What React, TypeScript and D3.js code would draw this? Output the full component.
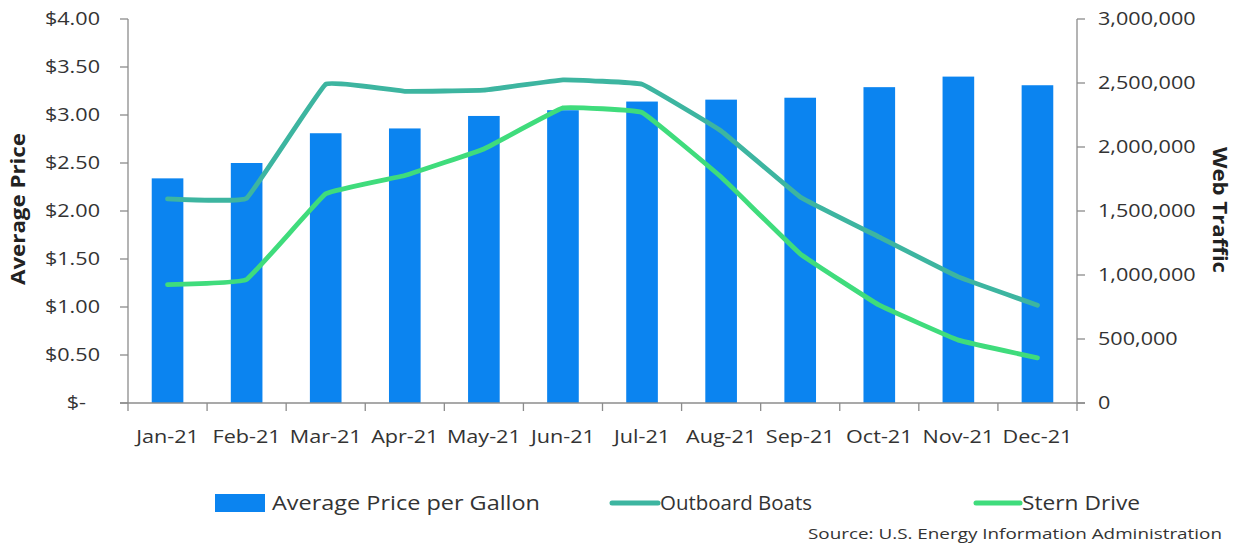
import * as d3 from 'd3';
import React, { useEffect, useRef } from 'react';

const months = ['Jan-21', 'Feb-21', 'Mar-21', 'Apr-21', 'May-21', 'Jun-21', 'Jul-21', 'Aug-21', 'Sep-21', 'Oct-21', 'Nov-21', 'Dec-21'];
const avgPrice = [2.34, 2.5, 2.81, 2.86, 2.99, 3.05, 3.14, 3.16, 3.18, 3.29, 3.4, 3.31];
const outboard = [1595000, 1600000, 2490000, 2435000, 2444000, 2525000, 2490000, 2125000, 1610000, 1296000, 985000, 764000];
const sternDrive = [925000, 965000, 1634000, 1777000, 1985000, 2305000, 2270000, 1765000, 1165000, 764000, 491000, 353000];
const priceTicks = [0, 0.5, 1, 1.5, 2, 2.5, 3, 3.5, 4];
const trafficTicks = [0, 500000, 1000000, 1500000, 2000000, 2500000, 3000000];

const W = 1247;
const H = 545;
const FONT = '"Open Sans", "Liberation Sans", sans-serif';
const BAR = '#0b84f0';
const TEAL = '#3db5a0';
const GREEN = '#3fdc7c';
const AXIS = '#8c8c8c';
const TEXT = '#333';
const STRETCH = 1.2; // tick labels in the source are horizontally wide

export default function App() {
  const ref = useRef<SVGSVGElement | null>(null);

  useEffect(() => {
    const svg = d3.select(ref.current);
    svg.selectAll('*').remove();

    const left = 128, right = 1077, top = 19, bottom = 403;

    const x = d3.scaleBand().domain(months).range([left, right]).paddingInner(0.6).paddingOuter(0.3);
    const band = d3.scaleBand().domain(months).range([left, right]);
    const yL = d3.scaleLinear().domain([0, 4]).range([bottom, top]);
    const yR = d3.scaleLinear().domain([0, 3000000]).range([bottom, top]);

    // bars
    svg.append('g')
      .selectAll('rect')
      .data(avgPrice)
      .join('rect')
      .attr('x', (_, i) => x(months[i])!)
      .attr('width', x.bandwidth())
      .attr('y', d => yL(d))
      .attr('height', d => bottom - yL(d))
      .attr('fill', BAR);

    // axes
    const axG = svg.append('g').attr('stroke', AXIS).attr('stroke-width', 1.3);
    axG.append('line').attr('x1', left).attr('x2', left).attr('y1', top).attr('y2', bottom);
    axG.append('line').attr('x1', right).attr('x2', right).attr('y1', top).attr('y2', bottom);
    axG.append('line').attr('x1', left - 8).attr('x2', right + 8).attr('y1', bottom).attr('y2', bottom);
    priceTicks.forEach(t => {
      axG.append('line').attr('x1', left - 8).attr('x2', left).attr('y1', yL(t)).attr('y2', yL(t));
    });
    trafficTicks.forEach(t => {
      axG.append('line').attr('x1', right).attr('x2', right + 8).attr('y1', yR(t)).attr('y2', yR(t));
    });
    months.forEach(m => {
      axG.append('line').attr('x1', band(m)!).attr('x2', band(m)!).attr('y1', bottom).attr('y2', bottom + 8);
    });
    axG.append('line').attr('x1', right).attr('x2', right).attr('y1', bottom).attr('y2', bottom + 8);

    // lines
    const lineFor = (vals: number[]) =>
      d3.line<number>()
        .x((_, i) => band(months[i])! + band.bandwidth() / 2)
        .y(d => yR(d))
        .curve(d3.curveCardinal.tension(0.78))(vals);

    [[outboard, TEAL], [sternDrive, GREEN]].forEach(([vals, c]) => {
      svg.append('path')
        .attr('d', lineFor(vals as number[]))
        .attr('fill', 'none')
        .attr('stroke', c as string)
        .attr('stroke-width', 4.8)
        .attr('stroke-linecap', 'round')
        .attr('stroke-linejoin', 'round');
    });

    const txt = svg.append('g').attr('font-family', FONT).attr('fill', TEXT);
    const label = (px: number, py: number, s: string, anchor: string) =>
      txt.append('text')
        .attr('transform', `translate(${px},${py}) scale(${STRETCH},1)`)
        .attr('dy', '0.35em')
        .attr('text-anchor', anchor)
        .attr('font-size', 18)
        .text(s);

    // left tick labels
    const fmtPrice = d3.format('$.2f');
    priceTicks.forEach(t => label(t === 0 ? 86 : 100, yL(t), t === 0 ? '$-' : fmtPrice(t), 'end'));

    // right tick labels
    const fmtTraffic = d3.format(',');
    trafficTicks.forEach(t => label(1098, yR(t), fmtTraffic(t), 'start'));

    // x labels
    months.forEach(m => label(band(m)! + band.bandwidth() / 2, 437, m, 'middle'));

    // axis titles
    txt.append('text')
      .attr('transform', 'translate(18,209) rotate(-90)')
      .attr('text-anchor', 'middle')
      .attr('dy', '0.35em')
      .attr('font-size', 20)
      .attr('font-weight', 'bold')
      .attr('fill', '#222')
      .attr('textLength', 152)
      .attr('lengthAdjust', 'spacingAndGlyphs')
      .text('Average Price');
    txt.append('text')
      .attr('transform', 'translate(1220,210) rotate(90)')
      .attr('text-anchor', 'middle')
      .attr('dy', '0.35em')
      .attr('font-size', 20)
      .attr('font-weight', 'bold')
      .attr('fill', '#222')
      .attr('textLength', 126)
      .attr('lengthAdjust', 'spacingAndGlyphs')
      .text('Web Traffic');

    // legend
    const ly = 503;
    svg.append('rect').attr('x', 215).attr('y', ly - 9).attr('width', 50).attr('height', 18).attr('fill', BAR);
    txt.append('text').attr('x', 272).attr('y', ly).attr('dy', '0.35em').attr('font-size', 20)
      .attr('textLength', 268).attr('lengthAdjust', 'spacingAndGlyphs').text('Average Price per Gallon');
    svg.append('line').attr('x1', 612).attr('x2', 658).attr('y1', ly).attr('y2', ly)
      .attr('stroke', TEAL).attr('stroke-width', 5).attr('stroke-linecap', 'round');
    txt.append('text').attr('x', 660).attr('y', ly).attr('dy', '0.35em').attr('font-size', 20)
      .attr('textLength', 152).attr('lengthAdjust', 'spacingAndGlyphs').text('Outboard Boats');
    svg.append('line').attr('x1', 976).attr('x2', 1020).attr('y1', ly).attr('y2', ly)
      .attr('stroke', GREEN).attr('stroke-width', 5).attr('stroke-linecap', 'round');
    txt.append('text').attr('x', 1022).attr('y', ly).attr('dy', '0.35em').attr('font-size', 20)
      .attr('textLength', 118).attr('lengthAdjust', 'spacingAndGlyphs').text('Stern Drive');

    txt.append('text').attr('x', 808).attr('y', 534).attr('dy', '0.35em').attr('font-size', 15)
      .attr('textLength', 414).attr('lengthAdjust', 'spacingAndGlyphs')
      .text('Source: U.S. Energy Information Administration');
  }, []);

  return (
    <svg
      ref={ref}
      width={W}
      height={H}
      style={{ position: 'absolute', left: 0, top: 0, background: '#fff' }}
    />
  );
}
